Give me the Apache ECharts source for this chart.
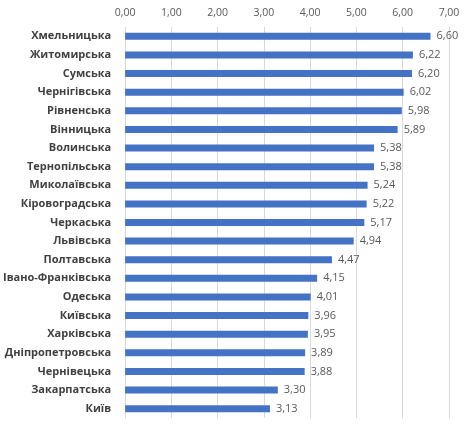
<!DOCTYPE html>
<html>
<head>
<meta charset="utf-8">
<script src="https://cdn.jsdelivr.net/npm/echarts@6/dist/echarts.min.js"></script>
<style>
  html, body { margin: 0; padding: 0; background: #fff; }
  #chart { width: 467px; height: 424px; }
</style>
</head>
<body>
<div id="chart"></div>
<script>
// області, зверху вниз
var regions = ['Хмельницька', 'Житомирська', 'Сумська', 'Чернігівська', 'Рівненська',
    'Вінницька', 'Волинська', 'Тернопільська', 'Миколаївська', 'Кіровоградська',
    'Черкаська', 'Львівська', 'Полтавська', 'Івано-Франківська', 'Одеська',
    'Київська', 'Харківська', 'Дніпропетровська', 'Чернівецька', 'Закарпатська', 'Київ'];
var values = [6.60, 6.22, 6.20, 6.02, 5.98, 5.89, 5.38, 5.38, 5.24, 5.22,
    5.17, 4.94, 4.47, 4.15, 4.01, 3.96, 3.95, 3.89, 3.88, 3.30, 3.13];
var axisMin = 0, axisMax = 7, axisStep = 1;

function comma(v) {
    return v.toFixed(2).replace('.', ',');
}

var chart = echarts.init(document.getElementById('chart'));
chart.setOption({
    animation: false,
    textStyle: { fontFamily: 'Open Sans' },
    grid: { left: 125, right: 18, top: 27, bottom: 6, containLabel: false },
    xAxis: {
        type: 'value',
        position: 'top',
        min: axisMin,
        max: axisMax,
        interval: axisStep,
        axisLine: { show: false },
        axisTick: { show: false },
        splitLine: { lineStyle: { color: '#d9d9d9', width: 1 } },
        axisLabel: { color: '#595959', fontSize: 10.5, margin: 8, formatter: comma }
    },
    yAxis: {
        type: 'category',
        inverse: true,
        data: regions,
        axisLine: { show: false },
        axisTick: { show: false },
        axisLabel: { color: '#404040', fontSize: 11, fontWeight: 'bold', margin: 14 }
    },
    series: [{
        type: 'bar',
        data: values,
        barWidth: 7,
        itemStyle: { color: '#4472c4' },
        label: {
            show: true,
            position: 'right',
            distance: 6,
            color: '#595959',
            fontSize: 11,
            formatter: function (p) { return comma(p.value); }
        }
    }]
});
</script>
</body>
</html>
